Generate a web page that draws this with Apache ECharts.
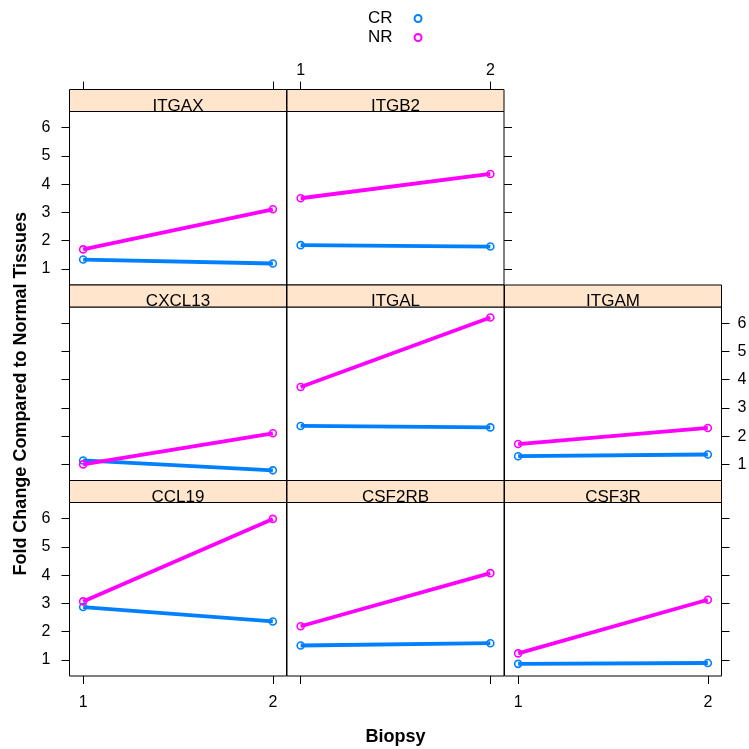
<!DOCTYPE html>
<html>
<head>
<meta charset="utf-8">
<script src="https://cdn.jsdelivr.net/npm/echarts@6/dist/echarts.min.js"></script>
<style>html,body{margin:0;padding:0;background:#fff;}#chart{width:749px;height:749px;}</style>
</head>
<body>
<div id="chart"></div>
<script>
// ---- data ----
const panelNames = ['ITGAX', 'ITGB2', 'CXCL13', 'ITGAL', 'ITGAM', 'CCL19', 'CSF2RB', 'CSF3R'];
const biopsy = [1, 2];
const crFold = [[1.33, 1.19], [1.84, 1.79], [1.14, 0.79], [2.36, 2.31], [1.29, 1.35], [2.87, 2.36], [1.51, 1.59], [0.86, 0.89]];
const nrFold = [[1.69, 3.11], [3.50, 4.36], [1.00, 2.10], [3.74, 6.20], [1.72, 2.29], [3.07, 5.99], [2.19, 4.07], [1.23, 3.13]];
const groups = ['CR', 'NR'];
const xTicks = [1, 2];
const yTicks = [1, 2, 3, 4, 5, 6];
const xTitle = 'Biopsy';
const yTitle = 'Fold Change Compared to Normal Tissues';

// ---- layout ----
const panelRow = [0, 0, 1, 1, 1, 2, 2, 2];
const panelCol = [0, 1, 0, 1, 2, 0, 1, 2];
const colLeft = [69.5, 287, 504.5];
const rowTop = [111.5, 307, 502.5];
const W = 217, H = 173.5, STRIP = 22;
const colors = { CR: '#0080ff', NR: '#ff00ff' };
const FONT = "'Liberation Sans', Arial, sans-serif";
const X_MIN = 0.928, X_MAX = 2.072, Y_MIN = 0.43, Y_MAX = 6.57;

const grid = [], xAxis = [], yAxis = [], series = [], graphic = [];
const tickStyle = { color: '#000', width: 1 };
const labelStyle = { color: '#000', fontSize: 16, fontFamily: FONT };

panelNames.forEach((name, i) => {
  const r = panelRow[i], c = panelCol[i];
  grid.push({ left: colLeft[c], top: rowTop[r], width: W, height: H, show: true,
    borderColor: '#000', borderWidth: 1, backgroundColor: 'transparent',
    containLabel: false, outerBoundsMode: 'none' });

  const rightmost = (r === 0 && c === 1) || (r > 0 && c === 2);
  // bottom x
  xAxis.push({ gridIndex: i, type: 'value', min: X_MIN, max: X_MAX, position: 'bottom',
    axisLine: { show: false }, splitLine: { show: false },
    axisTick: { show: r === 2, length: 8, lineStyle: tickStyle, customValues: xTicks },
    axisLabel: { show: r === 2 && c !== 1, margin: 19, customValues: xTicks, ...labelStyle },
    name: i === 6 ? xTitle : '', nameLocation: 'middle', nameGap: 52,
    nameTextStyle: { fontSize: 18, fontWeight: 'bold', fontFamily: FONT, color: '#000' } });
  // top x
  xAxis.push({ gridIndex: i, type: 'value', min: X_MIN, max: X_MAX, position: 'top', offset: STRIP,
    axisLine: { show: false }, splitLine: { show: false },
    axisTick: { show: r === 0, length: 8, lineStyle: tickStyle, customValues: xTicks },
    axisLabel: { show: r === 0 && c === 1, margin: 11, customValues: xTicks, ...labelStyle } });
  // left y
  yAxis.push({ gridIndex: i, type: 'value', min: Y_MIN, max: Y_MAX, position: 'left',
    axisLine: { show: false }, splitLine: { show: false },
    axisTick: { show: c === 0, length: 8, lineStyle: tickStyle, customValues: yTicks },
    axisLabel: { show: c === 0 && r !== 1, margin: 19, customValues: yTicks, ...labelStyle },
    name: i === 2 ? yTitle : '', nameLocation: 'middle', nameGap: 39, nameRotate: 90,
    nameTextStyle: { fontSize: 18, fontWeight: 'bold', fontFamily: FONT, color: '#000' } });
  // right y
  yAxis.push({ gridIndex: i, type: 'value', min: Y_MIN, max: Y_MAX, position: 'right',
    axisLine: { show: false }, splitLine: { show: false },
    axisTick: { show: rightmost, length: 8, lineStyle: tickStyle, customValues: yTicks },
    axisLabel: { show: rightmost && r === 1, margin: 16, customValues: yTicks, ...labelStyle } });

  [crFold, nrFold].forEach((vals, g) => {
    const grp = groups[g];
    series.push({
      name: grp, type: 'line', xAxisIndex: 2 * i, yAxisIndex: 2 * i,
      data: biopsy.map((b, k) => [b, vals[i][k]]),
      symbol: 'circle', symbolSize: 7, showSymbol: true,
      lineStyle: { color: colors[grp], width: 3.8 },
      itemStyle: { color: 'rgba(255,255,255,0)', borderColor: colors[grp], borderWidth: 1.6 },
      emphasis: { disabled: true }, silent: true, z: 2 + g
    });
  });

  // strip
  graphic.push({ type: 'rect', shape: { x: colLeft[c], y: rowTop[r] - STRIP, width: W, height: STRIP },
    style: { fill: '#ffe5cc', stroke: '#000', lineWidth: 1 }, z: 10 });
  graphic.push({ type: 'text', x: colLeft[c] + W / 2, y: rowTop[r] - STRIP + 16.5,
    style: { text: name, fill: '#000', font: '17px ' + FONT, textAlign: 'center', textVerticalAlign: 'middle' }, z: 11 });
});

const chart = echarts.init(document.getElementById('chart'), null, { renderer: 'canvas' });
chart.setOption({
  animation: false,
  backgroundColor: '#fff',
  legend: {
    data: groups.map(g => ({ name: g, icon: 'circle' })),
    orient: 'vertical', align: 'right', left: 363, top: 5,
    itemWidth: 7, itemHeight: 7, itemGap: 2,
    textStyle: { fontSize: 17, fontFamily: FONT, color: '#000', padding: [0, 17, 0, 0] },
    selectedMode: false
  },
  grid, xAxis, yAxis, series, graphic
});
</script>
</body>
</html>
